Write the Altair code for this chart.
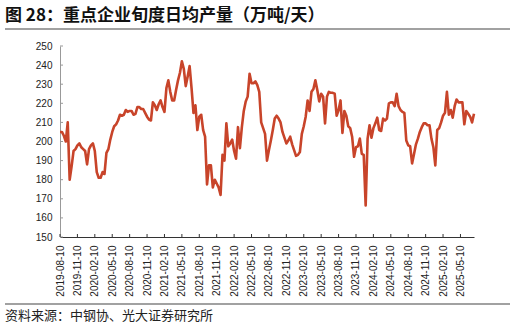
import altair as alt
import pandas as pd

TITLE = "图 28：重点企业旬度日均产量（万吨/天）"
SOURCE = "资料来源：中钢协、光大证券研究所"

TICK_LABELS = [
    "2019-08-10", "2019-11-10", "2020-02-10", "2020-05-10", "2020-08-10",
    "2020-11-10", "2021-02-10", "2021-05-10", "2021-08-10", "2021-11-10",
    "2022-02-10", "2022-05-10", "2022-08-10", "2022-11-10", "2023-02-10",
    "2023-05-10", "2023-08-10", "2023-11-10", "2024-02-10", "2024-05-10",
    "2024-08-10", "2024-11-10", "2025-02-10", "2025-05-10",
]
Y_TICKS = [150, 160, 170, 180, 190, 200, 210, 220, 230, 240, 250]

# dekadal daily output (10k t/day), one value per 旬 starting 2019-08-10
VALUES = [
    205, 205, 203, 200, 210, 180, 187, 195, 196, 198,
    199, 197, 196, 195, 188, 196, 198, 199, 195, 184,
    181, 181, 184, 183, 194, 196, 201, 205, 208, 209,
    211, 214, 213.5, 214, 216.5, 215.5, 216, 216, 214, 214.5,
    218, 218, 217, 217, 215, 213, 211.5, 211, 220.5, 219,
    216.5, 219.5, 221.5, 218, 215.5, 228, 232, 226, 221.5, 221.5,
    227, 232, 236, 242, 238, 229, 234, 239.5, 228, 215,
    219, 206, 213, 214, 206, 202.5, 177.5, 187.5, 187.5, 176,
    180, 178, 176, 172, 193, 190, 209.5, 197.5, 199, 201,
    195, 191, 207.5, 196.5, 207.5, 216, 221, 223.5, 235.5, 230.5,
    230.5, 231.5, 229.5, 226, 210, 207, 204, 190, 195.5, 200.5,
    206, 212, 213.5, 212, 210, 205, 202, 199, 200.5, 202.5,
    198.5, 195.5, 192.5, 193, 194.5, 204, 208, 213, 221.5, 216,
    226, 227.5, 232, 227, 221, 225, 223.5, 209.5, 223.5, 226,
    225.5, 225.5, 225, 213.5, 216.5, 221.5, 204.5, 216, 213.5, 208,
    207, 202.5, 192, 197, 197.5, 201.5, 193.5, 193, 166.5, 201.5,
    208.5, 202, 207, 209.5, 212.5, 206, 205.5, 212, 211, 212,
    220, 220.5, 220.5, 218.5, 225, 218.5, 216.5, 215.5, 215, 200.5,
    198, 197.5, 188.5, 193.5, 198.5, 201.5, 205, 207.5, 209.5, 209.5,
    208.5, 208.5, 201.5, 197, 187.5, 206, 207, 210, 213.5, 215,
    226, 214, 216.5, 212.5, 218.5, 222, 220.5, 220.5, 220.5, 209,
    216, 214.5, 213, 210, 214.5,
]

W, H = 414, 191
STEP = 9  # one quarter = 9 dekads

df = pd.DataFrame({"i": list(range(len(VALUES))), "v": VALUES})
xt_df = pd.DataFrame({"i": [k * STEP for k in range(len(TICK_LABELS))]})
yt_df = pd.DataFrame({"v": Y_TICKS})
one = pd.DataFrame({"k": [0]})

xscale = alt.Scale(domain=[0, len(VALUES) - 1], nice=False, zero=False)
yscale = alt.Scale(domain=[150, 250], nice=False, zero=False)

label_expr = "[" + ",".join(f"'{s}'" for s in TICK_LABELS) + f"][round(datum.value/{STEP})]"

XAXIS = alt.Axis(
    values=xt_df["i"].tolist(), labelExpr=label_expr, labelAngle=-90,
    labelFontSize=10, labelFont="Liberation Sans", labelColor="#222",
    labelPadding=8, labelOverlap=False, tickSize=0, grid=False,
    domainColor="#333", domainWidth=1, title=None,
)
YAXIS = alt.Axis(
    values=Y_TICKS, labelFontSize=10, labelFont="Liberation Sans",
    labelColor="#222", labelPadding=8, tickSize=0, grid=False,
    domainColor="#999", domainWidth=1, title=None,
)

line = alt.Chart(df).mark_line(
    color="#C8442A", strokeWidth=2.6, strokeJoin="round"
).encode(
    x=alt.X("i:Q", scale=xscale, axis=XAXIS),
    y=alt.Y("v:Q", scale=yscale, axis=YAXIS),
)

yticks = alt.Chart(yt_df).mark_rule(color="#999", strokeWidth=1).encode(
    y=alt.Y("v:Q", scale=yscale, axis=YAXIS),
    x=alt.value(0), x2=alt.value(3),
)
xticks = alt.Chart(xt_df).mark_rule(color="#333", strokeWidth=1).encode(
    x=alt.X("i:Q", scale=xscale, axis=XAXIS),
    y=alt.value(H), y2=alt.value(H - 3),
)

# thin separator bars under the title and above the source line
top_bar = alt.Chart(one).mark_rect(color="#444").encode(
    x=alt.value(-55), x2=alt.value(450), y=alt.value(-17.6), y2=alt.value(-16.4)
)
bottom_bar = alt.Chart(one).mark_rect(color="#444").encode(
    x=alt.value(-55), x2=alt.value(450), y=alt.value(257.4), y2=alt.value(258.6)
)

title_txt = alt.Chart(one).mark_text(
    align="left", baseline="alphabetic", fontSize=17,
    font="Noto Sans CJK SC", fontWeight="bold", color="#111",
).encode(x=alt.value(-55), y=alt.value(-25), text=alt.value(TITLE))

source_txt = alt.Chart(one).mark_text(
    align="left", baseline="alphabetic", fontSize=13,
    font="Noto Sans CJK SC", color="#222",
).encode(x=alt.value(-55), y=alt.value(83 + H), text=alt.value(SOURCE))

chart = alt.layer(
    line, yticks, xticks, top_bar, bottom_bar, title_txt, source_txt
).properties(
    width=W, height=H,
    background="white",
    padding={"left": 60, "top": 46, "right": 41, "bottom": 88},
    autosize=alt.AutoSizeParams(type="none"),
).configure_view(stroke="transparent")

chart.save("out.html", embed_options={"renderer": "svg", "actions": False})
